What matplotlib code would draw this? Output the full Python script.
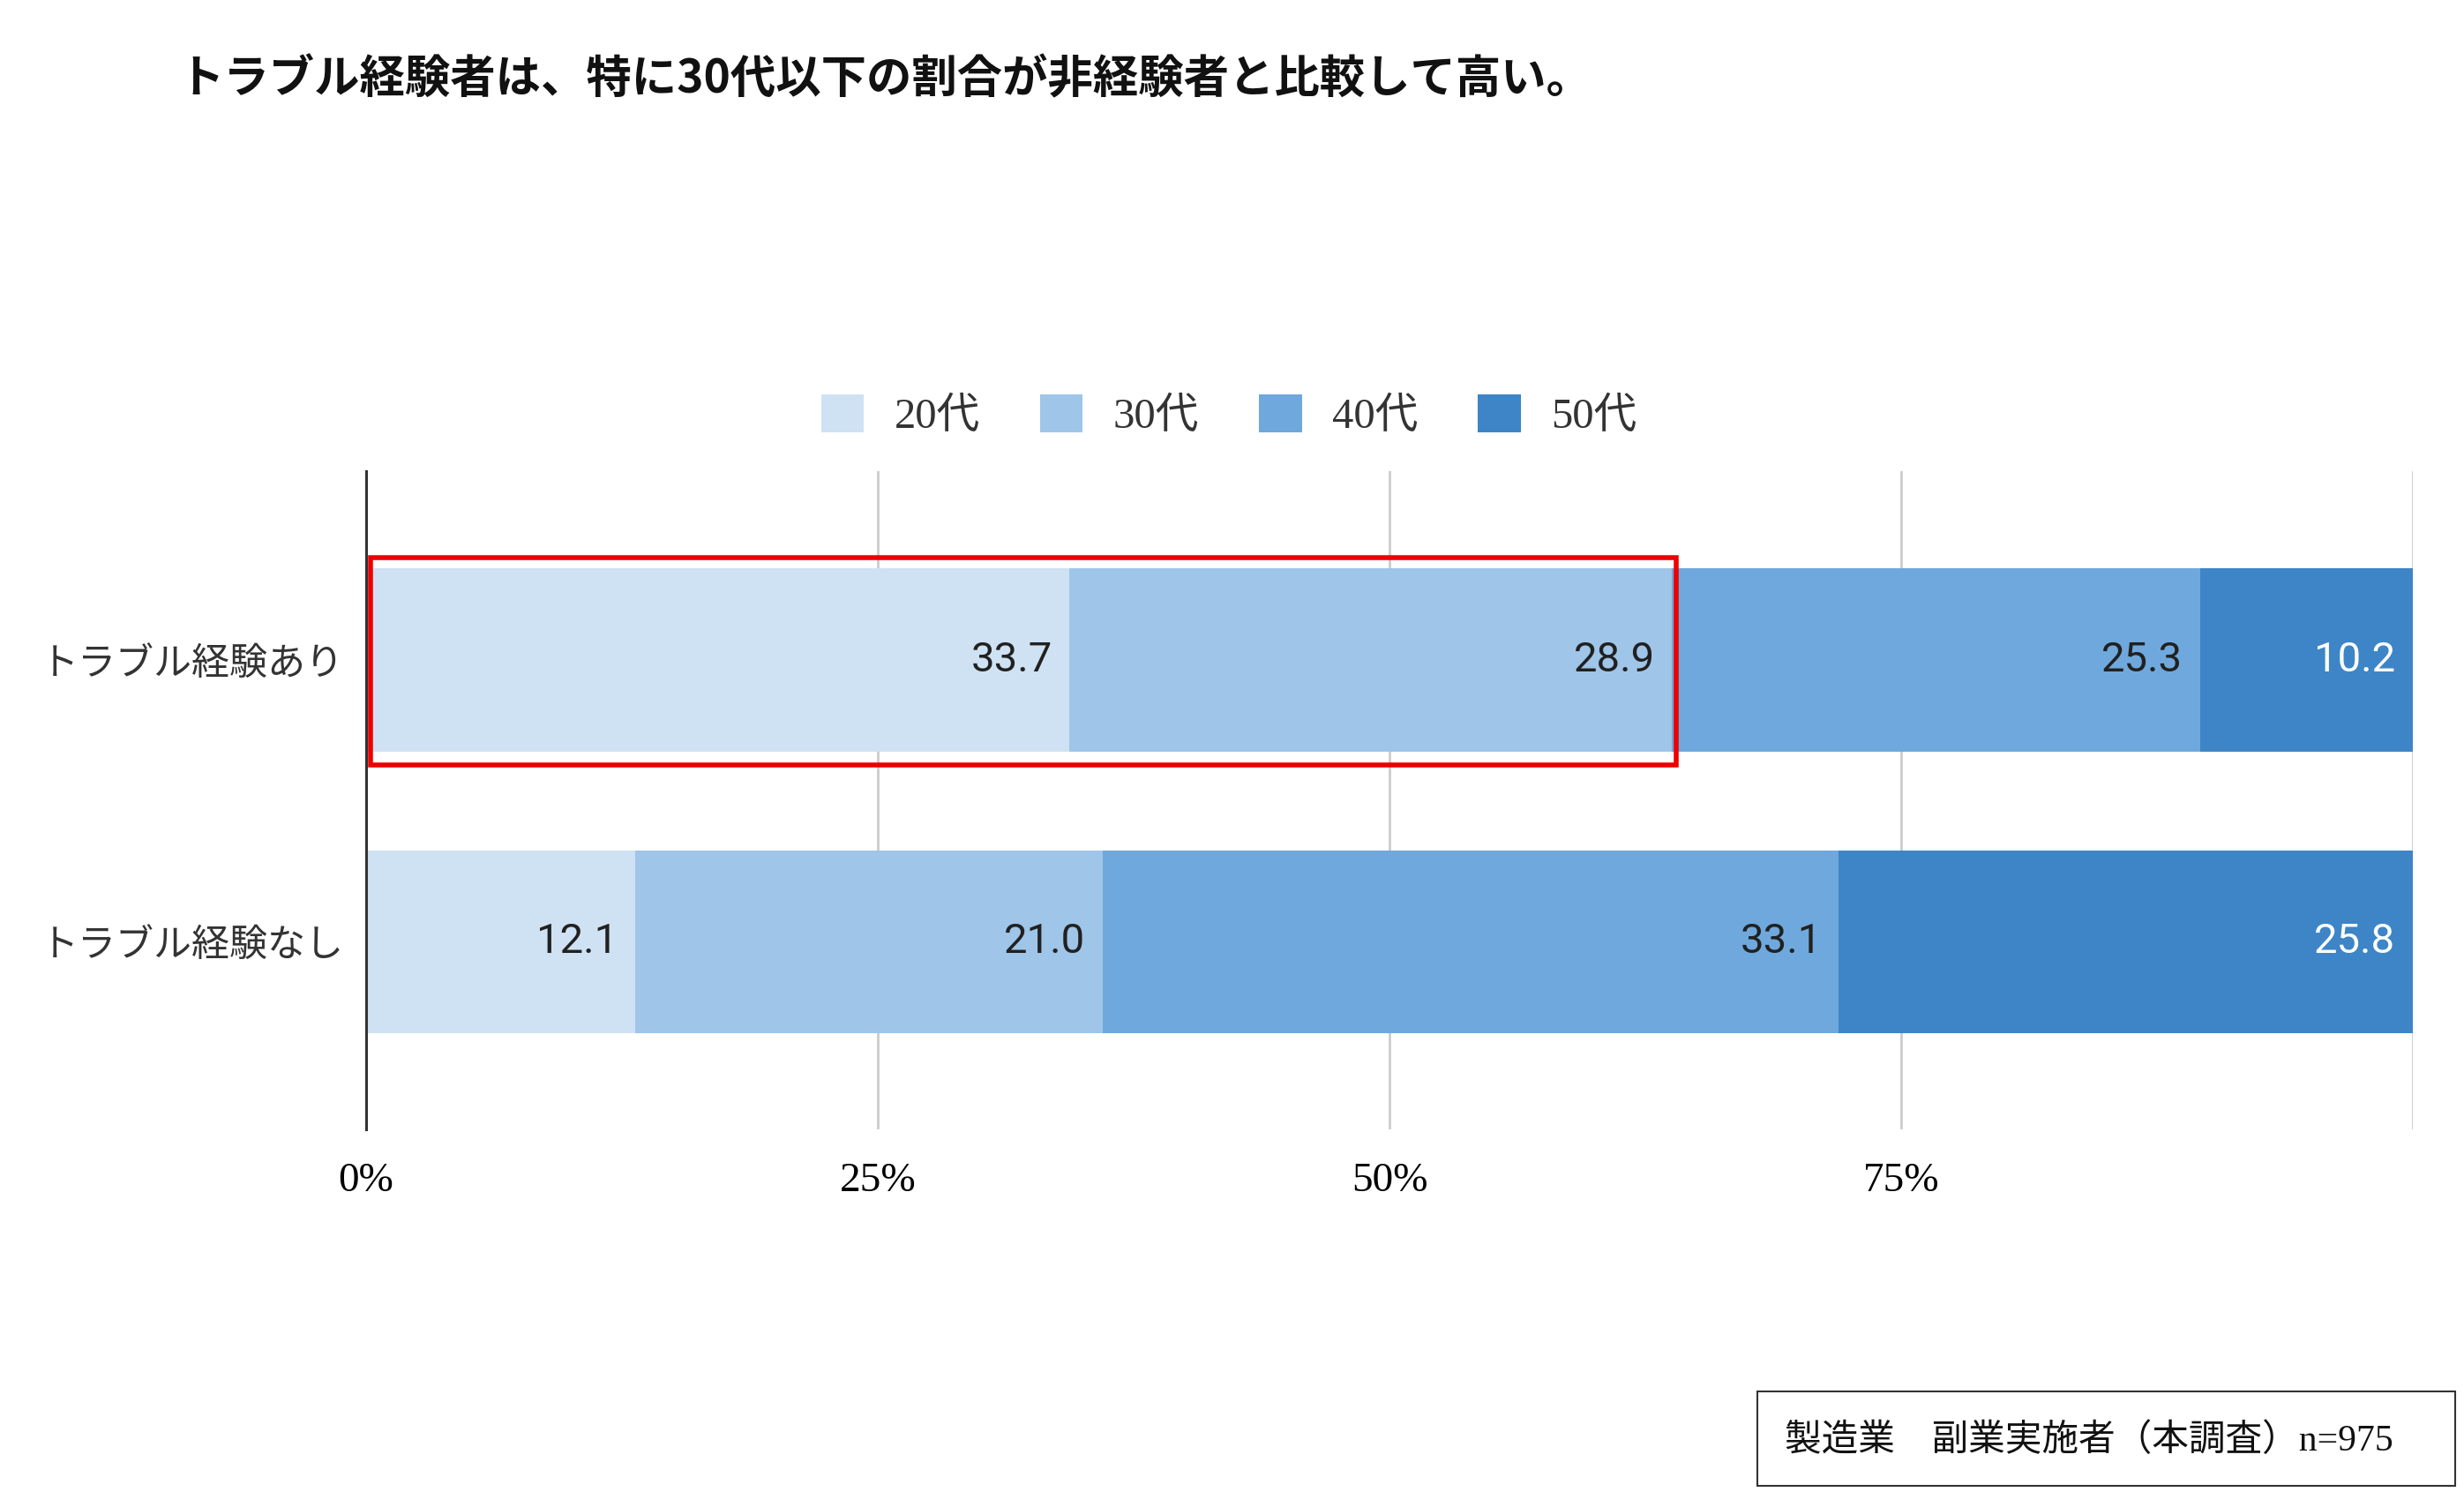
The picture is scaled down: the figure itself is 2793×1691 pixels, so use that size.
import matplotlib
matplotlib.use("Agg")
import matplotlib.pyplot as plt
from matplotlib.patches import Patch, Rectangle
import numpy as np

# data
categories = ["トラブル経験あり", "トラブル経験なし"]
age_groups = ["20代", "30代", "40代", "50代"]
with_trouble = [33.7, 28.9, 25.3, 10.2]
without_trouble = [12.1, 21.0, 33.1, 25.8]
xtick_labels = ["0%", "25%", "50%", "75%"]

title = "トラブル経験者は、特に30代以下の割合が非経験者と比較して高い。"
note = "製造業　副業実施者（本調査）n=975"

colors = ["#cfe2f3", "#9fc5e8", "#6fa8dc", "#3d85c6"]
label_colors = ["#212121", "#212121", "#212121", "#ffffff"]

JP = ["Noto Sans CJK JP", "DejaVu Sans"]
SERIF_JP = ["Liberation Serif", "Noto Sans CJK JP"]
plt.rcParams["font.family"] = JP

values = np.array([with_trouble, without_trouble])
shares = values / values.sum(axis=1, keepdims=True)

fig = plt.figure(figsize=(27.93, 16.91), dpi=100)
ax = fig.add_axes([0.1486, 0.243, 0.9792 - 0.1486, 0.684 - 0.243])

ypos = np.arange(len(categories))
left = np.zeros(len(categories))
for i, grp in enumerate(age_groups):
    ax.barh(ypos, shares[:, i], left=left, height=0.65, color=colors[i],
            label=grp, zorder=2)
    for j in range(len(categories)):
        ax.annotate(f"{values[j, i]:.1f}", (left[j] + shares[j, i], ypos[j]),
                    xytext=(-14, 0), textcoords="offset points",
                    ha="right", va="center", fontsize=34, family="Roboto",
                    color=label_colors[i], zorder=4)
    left = left + shares[:, i]

# highlight box around the under-40 share of the first bar
hl = shares[0, :2].sum()
ax.add_patch(Rectangle((0.002, -0.3625), hl, 0.735, fill=False,
                       edgecolor="#ee0000", lw=4, zorder=5, clip_on=False))

ax.set_xlim(0, 1)
ax.set_ylim(1.665, -0.667)
ax.set_xticks([0, 0.25, 0.5, 0.75, 1.0])
ax.set_xticklabels(xtick_labels + [""], family=SERIF_JP, fontsize=34)
ax.set_yticks(ypos)
ax.set_yticklabels(categories, fontsize=31, color="#333333")
ax.tick_params(axis="x", length=0, pad=27)
ax.tick_params(axis="y", length=0, pad=18)
ax.grid(axis="x", color="#cccccc", lw=2, zorder=0)
for s in ["top", "right", "bottom"]:
    ax.spines[s].set_visible(False)
ax.spines["left"].set_color("#333333")
ax.spines["left"].set_linewidth(2.2)
ax.spines["left"].set_zorder(3)

handles = [Patch(facecolor=c, edgecolor="none") for c in colors]
fig.legend(handles, age_groups, loc="center", bbox_to_anchor=(0.4987, 0.7215),
           ncol=4, frameon=False, prop={"family": SERIF_JP, "size": 35},
           handlelength=1.0, handleheight=1.0, handletextpad=0.7,
           columnspacing=1.4, labelcolor="#333333")

fig.text(0.0723, 0.947, title, fontsize=37, fontweight="bold",
         ha="left", va="center", color="#111111")

fig.add_artist(Rectangle((0.7132, 0.0041), 0.2832, 0.0633, transform=fig.transFigure,
                         fill=False, edgecolor="#333333", lw=1.5))
fig.text(0.7243, 0.0343, note, fontsize=30, family=SERIF_JP,
         ha="left", va="center", color="#111111")

fig.savefig("out.png", dpi=100, facecolor="white")
